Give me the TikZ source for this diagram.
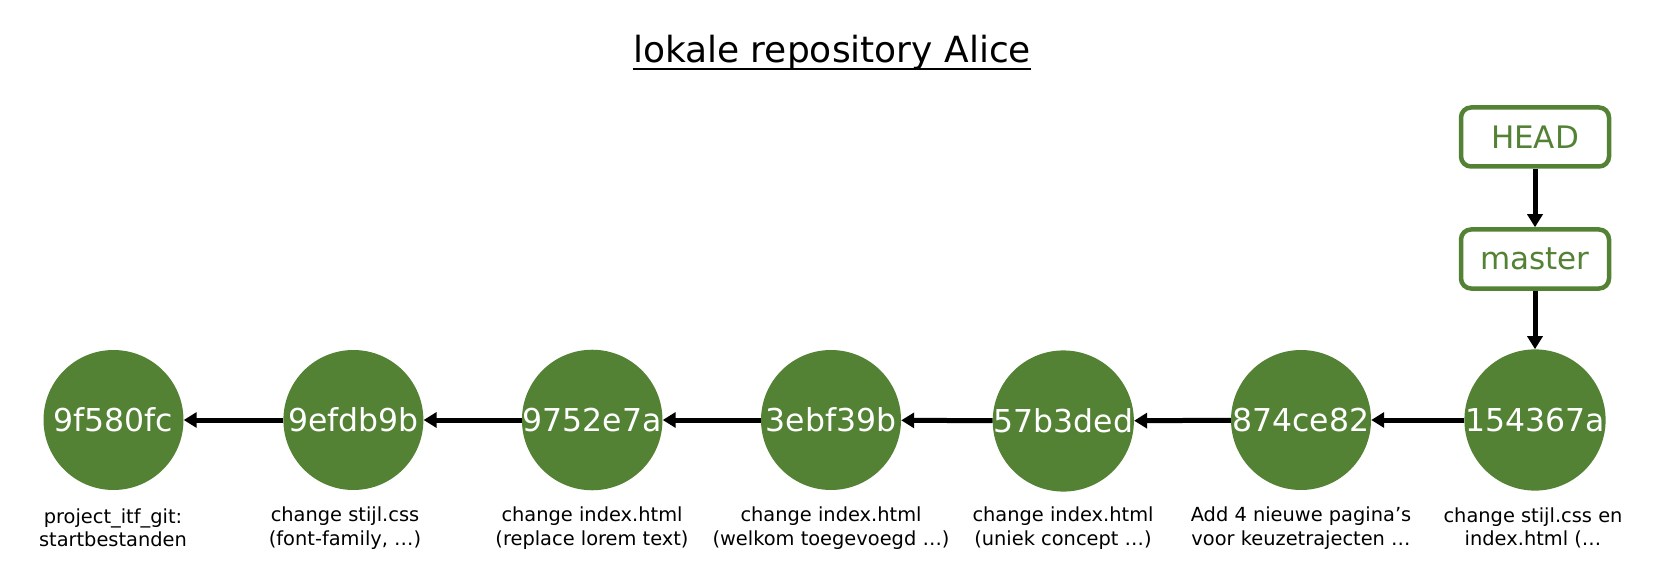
\documentclass[tikz,border=0pt]{standalone}
\usepackage{fontspec}
\setmainfont{DejaVu Sans}
\usetikzlibrary{arrows.meta}
\definecolor{gitgreen}{RGB}{84,130,53}
\begin{document}
\begin{tikzpicture}[x=1pt,y=-1pt,
 commit/.style={circle, fill=gitgreen, draw=none, minimum size=140pt, inner sep=0pt, text=white, font=\fontsize{31.5}{36}\selectfont},
 refbox/.style={rectangle, rounded corners=10pt, draw=gitgreen, line width=4.5pt, minimum width=148pt, minimum height=59pt, inner sep=0pt, text=gitgreen, fill=white, font=\fontsize{31}{36}\selectfont},
 msg/.style={align=center, font=\fontsize{19.4}{23.4}\selectfont, inner sep=0pt},
 link/.style={line width=5pt, -{Triangle[length=13pt,width=15pt]}}
]
\useasboundingbox (0,0) rectangle (1664,569);
\node[inner sep=0pt, font=\fontsize{36}{40}\selectfont] (title) at (832,53) {lokale repository Alice};
\draw[line width=2pt] ([yshift=2pt]title.south west) -- ([yshift=2pt]title.south east);

\node[commit] (c1) at (113.5,420) {9f580fc};
\node[commit] (c2) at (353.4,420) {9efdb9b};
\node[commit] (c3) at (592.2,420) {9752e7a};
\node[commit] (c4) at (831,420) {3ebf39b};
\node[commit] (c5) at (1063.3,421) {57b3ded};
\node[commit] (c6) at (1301,420) {874ce82};
\node[commit] (c7) at (1535,420) {154367a};

\node[refbox] (head) at (1535,137) {HEAD};
\node[refbox] (master) at (1535,259) {master};

\node[msg] (m1) at (113,528) {project\_itf\_git:\\startbestanden};
\node[msg] (m2) at (345,528) {change stijl.css\\(font-family, …)};
\node[msg] (m3) at (592,528) {change index.html\\(replace lorem text)};
\node[msg] (m4) at (831,528) {change index.html\\(welkom toegevoegd …)};
\node[msg] (m5) at (1063,528) {change index.html\\(uniek concept …)};
\node[msg] (m6) at (1301,528) {Add 4 nieuwe pagina’s\\voor keuzetrajecten …};
\node[msg] (m7) at (1533,528) {change stijl.css en\\index.html (…};

\draw[link] (c2) -- (c1);
\draw[link] (c3) -- (c2);
\draw[link] (c4) -- (c3);
\draw[link] (c5) -- (c4);
\draw[link] (c6) -- (c5);
\draw[link] (c7) -- (c6);
\draw[link] (head) -- (master);
\draw[link] (master) -- (c7);
\end{tikzpicture}
\end{document}
